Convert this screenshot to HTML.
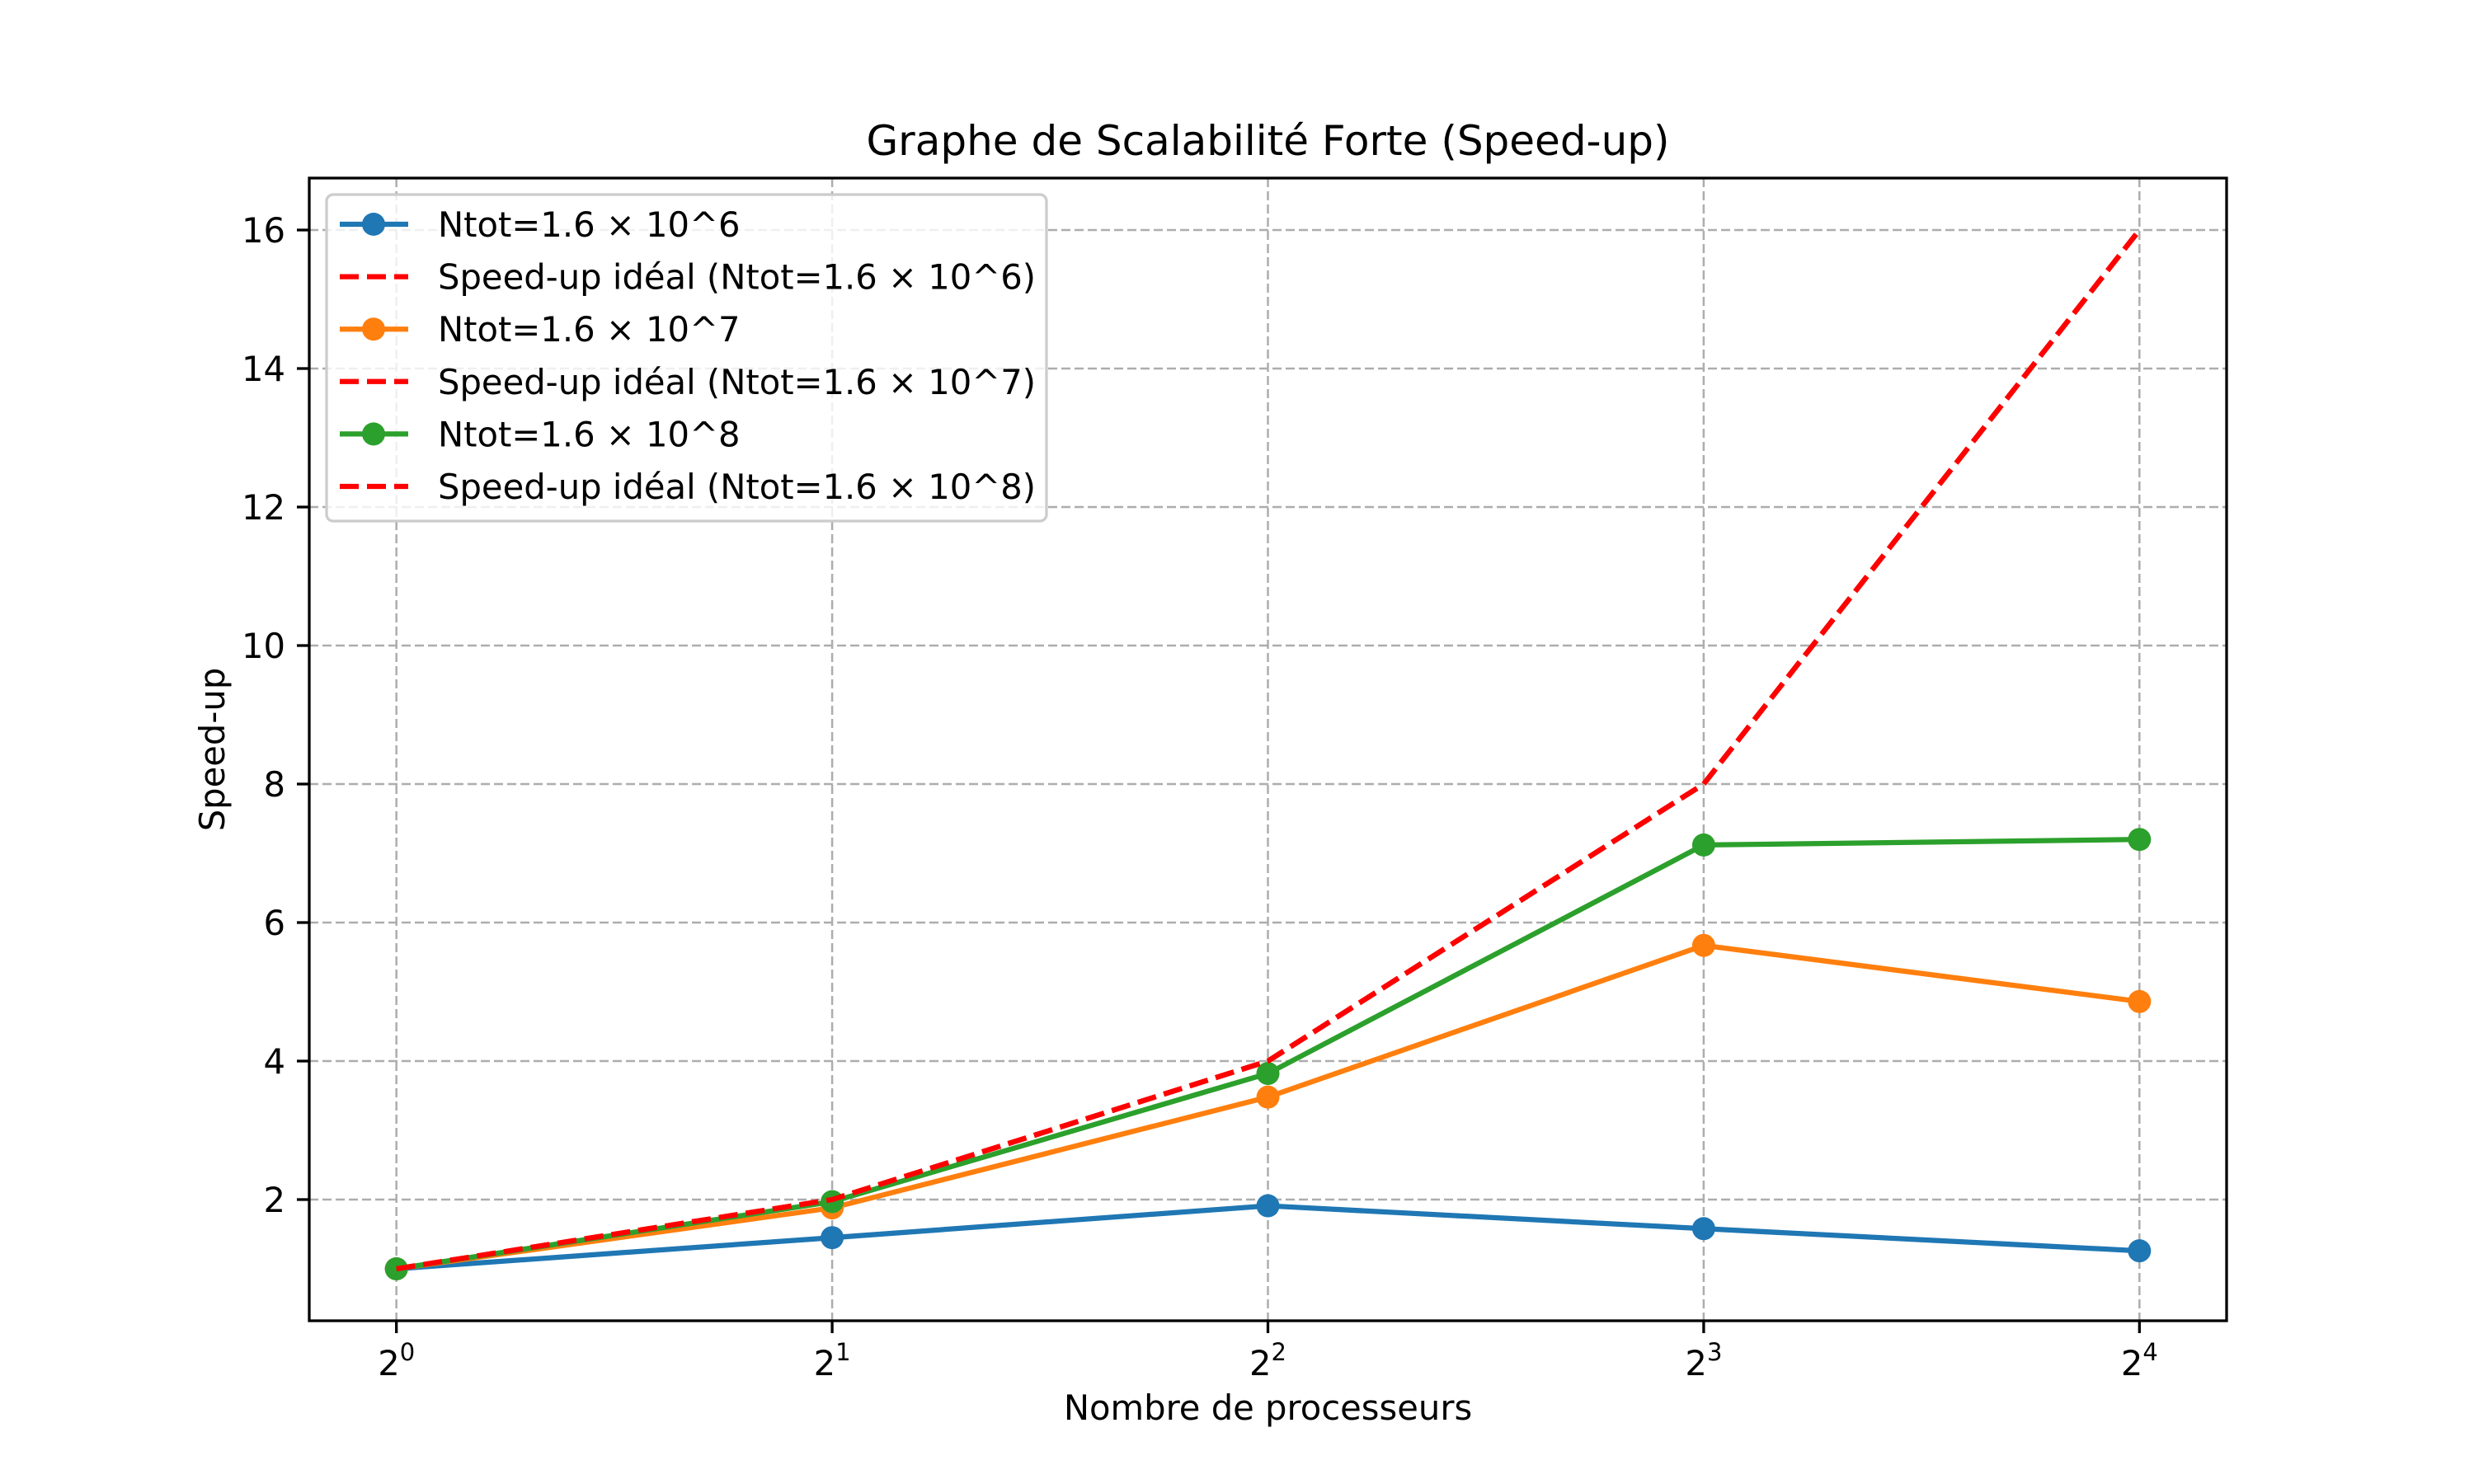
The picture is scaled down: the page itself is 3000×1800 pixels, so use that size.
<!DOCTYPE html>
<html><head><meta charset="utf-8"><style>
html,body{margin:0;padding:0;background:#fff;}
svg{display:block;font-family:"DejaVu Sans","Liberation Sans",sans-serif;}
</style></head><body>
<svg id="chart" width="3000" height="1800" viewBox="0 0 3000 1800" xmlns="http://www.w3.org/2000/svg">
<rect width="3000" height="1800" fill="#fff"/>
<g id="grid"></g>
<g id="series"></g>
<rect x="375" y="216" width="2325" height="1386" fill="none" stroke="#000" stroke-width="3.3"/>
<g id="ticks"></g>
<text x="1537.5" y="188" font-size="50" text-anchor="middle">Graphe de Scalabilité Forte (Speed-up)</text>
<text x="1537.5" y="1722" font-size="41.7" text-anchor="middle">Nombre de processeurs</text>
<text transform="translate(272,909) rotate(-90)" font-size="41.7" text-anchor="middle">Speed-up</text>
<g id="legend"></g>
</svg>
<script>
const exponents = [0, 1, 2, 3, 4];
const yTicks = [2, 4, 6, 8, 10, 12, 14, 16];
const blueVals = [1, 1.45, 1.91, 1.58, 1.26];
const orangeVals = [1, 1.88, 3.48, 5.67, 4.86];
const greenVals = [1, 1.97, 3.82, 7.12, 7.20];
const idealVals = [1, 2, 4, 8, 16];
const legendLabels = ["Ntot=1.6 × 10^6","Speed-up idéal (Ntot=1.6 × 10^6)","Ntot=1.6 × 10^7","Speed-up idéal (Ntot=1.6 × 10^7)","Ntot=1.6 × 10^8","Speed-up idéal (Ntot=1.6 × 10^8)"];

const NS = "http://www.w3.org/2000/svg";
const L=375,R=2700,T=216,B=1602;
const xmin=-0.2,xmax=4.2,ymin=0.25,ymax=16.75;
const X=e=>L+(e-xmin)/(xmax-xmin)*(R-L);
const Y=v=>B-(v-ymin)/(ymax-ymin)*(B-T);
function mk(tag,attrs,parent){const el=document.createElementNS(NS,tag);for(const k in attrs)el.setAttribute(k,attrs[k]);parent.appendChild(el);return el;}
const grid=document.getElementById('grid'),ticks=document.getElementById('ticks'),series=document.getElementById('series'),legend=document.getElementById('legend');

exponents.forEach(e=>{
  const x=X(e);
  let g=mk('line',{x1:x,x2:x,y1:T,y2:B,stroke:'#adadad','stroke-width':2.5,'stroke-dasharray':'11,5'},grid);
  
  
  let t=mk('line',{x1:x,x2:x,y1:B,y2:B+15,stroke:'#000','stroke-width':3.3},ticks);
  
  
  let tx=mk('text',{x:x,y:1668,'font-size':41.7,'text-anchor':'middle'},ticks);
  
  
  tx.innerHTML='2<tspan dy="-18" font-size="29">'+e+'</tspan>';
});
yTicks.forEach(v=>{
  const y=Y(v);
  let g=mk('line',{x1:L,x2:R,y1:y,y2:y,stroke:'#adadad','stroke-width':2.5,'stroke-dasharray':'11,5'},grid);
  
  
  let t=mk('line',{x1:L-15,x2:L,y1:y,y2:y,stroke:'#000','stroke-width':3.3},ticks);
  
  
  let tx=mk('text',{x:L-29,y:y+15,'font-size':41.7,'text-anchor':'end'},ticks);
  
  
  tx.textContent=v;
});

function drawLine(vals,color,dashed,name){
  const pts=vals.map((v,i)=>X(exponents[i])+','+Y(v)).join(' ');
  const a={points:pts,fill:'none',stroke:color,'stroke-width':6.25,'stroke-linejoin':'round','stroke-linecap':dashed?'butt':'square'};
  if(dashed)a['stroke-dasharray']='23,10';
  const pl=mk('polyline',a,series);
  
  
  if(!dashed){vals.forEach((v,i)=>{
    const c=mk('circle',{cx:X(exponents[i]),cy:Y(v),r:14,fill:color},series);
    
    
  });}
}
drawLine(blueVals,'#1f77b4',false,'series-1e6');
drawLine(idealVals,'#ff0000',true,'ideal-1e6');
drawLine(orangeVals,'#ff7f0e',false,'series-1e7');
drawLine(idealVals,'#ff0000',true,'ideal-1e7');
drawLine(greenVals,'#2ca02c',false,'series-1e8');
drawLine(idealVals,'#ff0000',true,'ideal-1e8');

const lb=mk('rect',{x:396,y:236,width:873,height:396,rx:8,fill:'#fff','fill-opacity':0.8,stroke:'#cccccc','stroke-width':3.3},legend);


const cols=['#1f77b4','#ff0000','#ff7f0e','#ff0000','#2ca02c','#ff0000'];
legendLabels.forEach((lab,i)=>{
  const y=272+i*63.6;
  const dashed=i%2===1;
  const a={x1:412,x2:495,y1:y,y2:y,stroke:cols[i],'stroke-width':6.25};
  if(dashed)a['stroke-dasharray']='23,10';
  const ln=mk('line',a,legend);
  
  
  if(!dashed){const c=mk('circle',{cx:453,cy:y,r:14,fill:cols[i]},legend);
    
    }
  const t=mk('text',{x:531,y:y+15,'font-size':41.7},legend);
  
  
  t.textContent=lab;
});
</script>
</body></html>
